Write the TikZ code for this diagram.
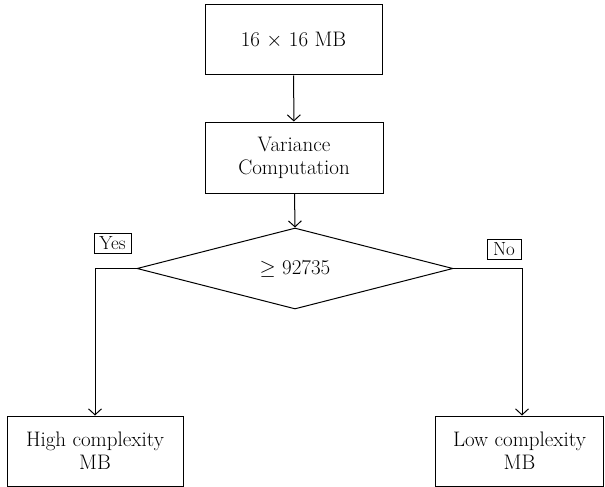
\documentclass[tikz,border=0pt]{standalone}
\usetikzlibrary{shapes.geometric,arrows.meta}
\begin{document}
\begin{tikzpicture}[x=1pt,y=-1pt,
  every node/.style={font=\fontsize{21}{23}\selectfont},
  procbox/.style={draw,line width=1pt,inner sep=0pt,align=center,minimum height=70pt},
  tagbox/.style={draw,line width=0.9pt,inner sep=1.5pt,minimum height=20pt,font=\fontsize{19}{20}\selectfont},
  flow/.style={line width=1pt,-{Straight Barb[length=6pt,width=13pt,line width=1pt]}}
]
\useasboundingbox (0,0) rectangle (605,487);
\node[procbox,minimum width=177pt] (mb) at (293.5,40) {16 $\times$ 16 MB};
\node[procbox,minimum width=178pt,minimum height=71pt] (var) at (294,157.5) {Variance\\Computation};
\node[draw,line width=1pt,diamond,aspect=3.9,minimum width=316pt,minimum height=81pt,inner sep=0pt] (dec) at (295,268.5) {$\geq$ 92735};
\node[procbox,minimum width=176pt] (hi) at (95,451) {High complexity\\MB};
\node[procbox,minimum width=168pt] (lo) at (519.5,451) {Low complexity\\MB};
\node[tagbox,minimum width=37pt] (yes) at (112.5,243) {Yes};
\node[tagbox,minimum width=34pt] (no) at (504,249) {No};
\coordinate (lotop) at ([xshift=2.5pt]lo.north);
\draw[flow] (mb) -- (var);
\draw[flow] (var) -- (dec.north);
\draw[flow] (dec.west) -| (hi.north);
\draw[flow] (dec.east) -| (lotop);
\end{tikzpicture}
\end{document}
